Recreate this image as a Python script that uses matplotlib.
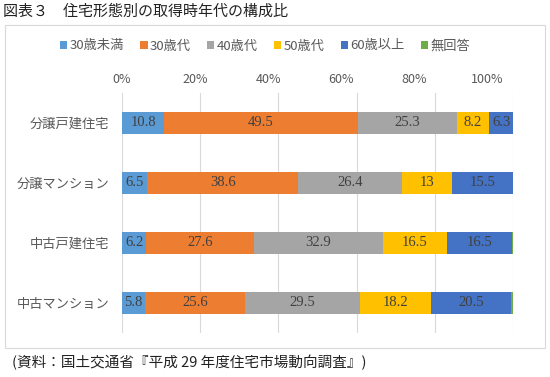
import matplotlib
matplotlib.use('Agg')
import matplotlib.pyplot as plt
import numpy as np
from matplotlib.patches import Rectangle

plt.rcParams['font.family'] = ['Noto Sans CJK JP', 'DejaVu Sans']

# データ
categories = ['分譲戸建住宅', '分譲マンション', '中古戸建住宅', '中古マンション']
series_names = ['30歳未満', '30歳代', '40歳代', '50歳代', '60歳以上', '無回答']
under30 = [10.8, 6.5, 6.2, 5.8]
age30s = [49.5, 38.6, 27.6, 25.6]
age40s = [25.3, 26.4, 32.9, 29.5]
age50s = [8.2, 13, 16.5, 18.2]
over60 = [6.3, 15.5, 16.5, 20.5]
no_answer = [0.0, 0.0, 0.3, 0.4]
xticks = [0, 20, 40, 60, 80, 100]

series = [under30, age30s, age40s, age50s, over60, no_answer]
colors = ['#5B9BD5', '#ED7D31', '#A5A5A5', '#FFC000', '#4472C4', '#70AD47']

fig = plt.figure(figsize=(5.5, 3.77), dpi=100)

# 外枠
fig.patches.append(Rectangle((5 / 550, 1 - 348 / 377), 540 / 550, 323 / 377,
                             transform=fig.transFigure, fill=False,
                             edgecolor='#D9D9D9', linewidth=0.8))

ax = fig.add_axes([122 / 550, 1 - 333 / 377, 391 / 550, 240 / 377])

y = np.arange(len(categories))
left = np.zeros(len(categories))
for name, vals, c in zip(series_names, series, colors):
    vals = np.array(vals, dtype=float)
    ax.barh(y, vals, left=left, height=0.38, color=c, label=name, zorder=2)
    for i, v in enumerate(vals):
        if v >= 1:
            txt = f'{v:g}'
            ax.text(left[i] + v / 2, y[i], txt, ha='center', va='center',
                    fontsize=10.5, color='#404040', family=['Liberation Serif'],
                    zorder=3)
    left += vals

ax.set_xlim(0, 100)
ax.set_ylim(3.5, -0.5)
ax.set_xticks(xticks)
ax.tick_params(axis='x', length=0, labelbottom=False)
ax.set_yticks(y)
ax.set_yticklabels(categories)
ax.tick_params(axis='y', length=0, labelsize=9.5, colors='#595959', pad=9)
ax.grid(axis='x', color='#D9D9D9', linewidth=0.8, zorder=0)
for s in ax.spines.values():
    s.set_visible(False)

# 目盛ラベルは元図では少し狭い間隔で描かれている
ax2 = ax.twiny()
ax2.set_xlim(1.877, 106.97)
ax2.set_xticks(xticks)
ax2.set_xticklabels([f'{t}%' for t in xticks])
ax2.tick_params(axis='x', length=0, labelsize=9, colors='#595959', pad=5)
for s in ax2.spines.values():
    s.set_visible(False)

ax.legend(loc='center', bbox_to_anchor=((265 - 122) / 391, 1 + (93 - 46) / 240),
          ncol=6, frameon=False, fontsize=9.5, handlelength=0.55,
          handleheight=0.55, handletextpad=0.15, columnspacing=1.25,
          labelcolor='#595959')

fig.text(3 / 550, 1 - 12 / 377, '図表３　住宅形態別の取得時年代の構成比',
         fontsize=10.8, va='center', ha='left', color='#222222')
fig.text(12 / 550, 1 - 362 / 377, '(資料：国土交通省『平成 29 年度住宅市場動向調査』)',
         fontsize=10.5, va='center', ha='left', color='#222222')

fig.savefig('out.png', dpi=100)
